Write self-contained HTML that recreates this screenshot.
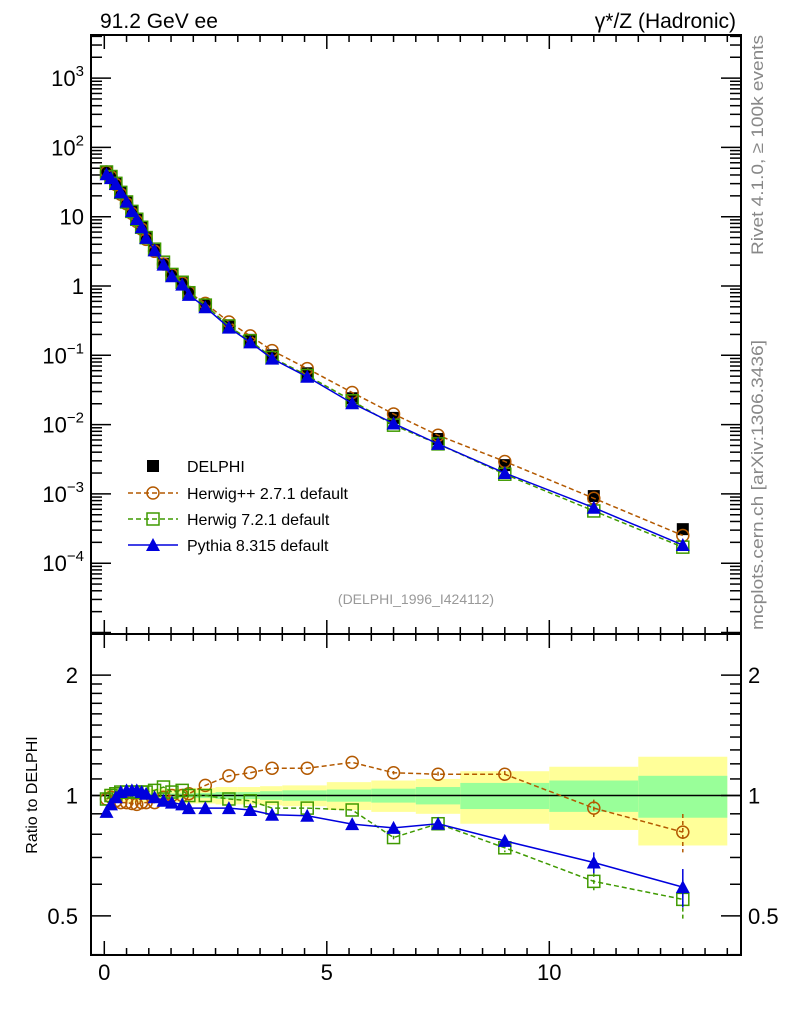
<!DOCTYPE html>
<html><head><meta charset="utf-8"><style>
body{margin:0;background:#fff}
svg{display:block;font-family:"Liberation Sans",sans-serif}
</style></head><body>
<svg id="c" width="786" height="1024" viewBox="0 0 786 1024" xmlns="http://www.w3.org/2000/svg">
<rect x="0" y="0" width="786" height="1024" fill="#fff"/>
<g id="bands"></g><g id="grid"></g><g id="series"></g>
<rect x="91" y="35" width="650" height="599" fill="none" stroke="#000" stroke-width="2"/>
<rect x="91" y="634" width="650" height="321" fill="none" stroke="#000" stroke-width="2"/>
<text x="100" y="28" font-size="21">91.2 GeV ee</text>
<text x="736" y="28" font-size="21" text-anchor="end">γ*/Z (Hadronic)</text>
<text transform="translate(763,255) rotate(-90)" font-size="17" fill="#888" textLength="220" lengthAdjust="spacingAndGlyphs">Rivet 4.1.0, ≥ 100k events</text>
<text transform="translate(763,630) rotate(-90)" font-size="17" fill="#888" textLength="290" lengthAdjust="spacingAndGlyphs">mcplots.cern.ch [arXiv:1306.3436]</text>
<text x="416" y="604" font-size="14" fill="#999" text-anchor="middle">(DELPHI_1996_I424112)</text>
<text transform="translate(37,795) rotate(-90)" font-size="16" text-anchor="middle">Ratio to DELPHI</text>
<g font-size="16">
<rect x="147" y="460" width="12" height="12" fill="#000"/>
<text x="187" y="472">DELPHI</text>
<line x1="128" y1="493" x2="178" y2="493" stroke="#b35900" stroke-width="1.5" stroke-dasharray="5,3"/>
<circle cx="153" cy="493" r="6" fill="none" stroke="#b35900" stroke-width="1.5"/>
<text x="187" y="499">Herwig++ 2.7.1 default</text>
<line x1="128" y1="519" x2="178" y2="519" stroke="#3f9a00" stroke-width="1.5" stroke-dasharray="5,3"/>
<rect x="147" y="513" width="12" height="12" fill="none" stroke="#3f9a00" stroke-width="1.5"/>
<text x="187" y="525">Herwig 7.2.1 default</text>
<line x1="128" y1="545" x2="178" y2="545" stroke="#0000dd" stroke-width="1.5"/>
<polygon points="153,538 160,551 146,551" fill="#0000dd"/>
<text x="187" y="551">Pythia 8.315 default</text>
</g>
</svg>
<script>
const xs=[0.05,0.15,0.26,0.37,0.5,0.62,0.73,0.84,0.94,1.13,1.33,1.52,1.75,1.9,2.27,2.8,3.28,3.77,4.56,5.57,6.5,7.5,9,11,13];
const edges=[0,0.1,0.2,0.3,0.4,0.55,0.65,0.8,0.9,1.0,1.2,1.4,1.6,1.8,2.0,2.5,3.0,3.5,4.0,5.0,6.0,7.0,8.0,10,12,14];
const delphi=[45,38,30,22,16,11.7,9,6.9,4.9,3.3,2.1,1.44,1.1,0.8,0.53,0.27,0.167,0.1,0.055,0.024,0.0125,0.0062,0.0026,0.00093,0.00031];
const statErr=[0.012,0.012,0.012,0.012,0.012,0.012,0.012,0.012,0.012,0.012,0.012,0.012,0.012,0.012,0.015,0.02,0.02,0.025,0.03,0.035,0.04,0.05,0.075,0.09,0.12];
const totErr=[0.04,0.04,0.04,0.04,0.04,0.04,0.04,0.04,0.04,0.04,0.04,0.04,0.04,0.045,0.045,0.05,0.05,0.055,0.06,0.08,0.09,0.1,0.15,0.18,0.25];
const rHpp=[0.98,0.99,0.97,0.96,0.96,0.955,0.95,0.96,0.96,0.96,0.99,1.0,1.0,1.01,1.06,1.12,1.14,1.17,1.17,1.21,1.14,1.13,1.13,0.93,0.81];
const rH7=[0.98,1.0,1.01,1.02,1.02,1.02,1.02,1.02,1.02,1.03,1.05,1.02,1.03,1.0,1.0,0.98,0.97,0.93,0.93,0.92,0.785,0.85,0.74,0.61,0.55];
const rPy=[0.91,0.95,0.99,1.02,1.03,1.03,1.03,1.02,1.01,0.99,0.97,0.96,0.95,0.93,0.93,0.93,0.92,0.895,0.89,0.848,0.83,0.85,0.77,0.68,0.59];
const eHpp=[0,0,0,0,0,0,0,0,0,0,0,0,0,0,0,0,0,0,0,0,0.01,0.015,0.02,0.05,0.11];
const eH7=[0,0,0,0,0,0,0,0,0,0,0,0,0,0,0,0,0,0,0,0,0.01,0.015,0.025,0.05,0.12];
const ePy=[0,0,0,0,0,0,0,0,0,0,0,0,0,0,0,0,0,0,0,0,0.015,0.015,0.03,0.06,0.11];
const mainTicks=["10^-4","10^-3","10^-2","10^-1","1","10","10^2","10^3"];
const mainTickExp=[-4,-3,-2,-1,0,1,2,3];
const xTickLabels=[0,5,10];
const ratioTicks=[0.5,1,2];

const NS="http://www.w3.org/2000/svg";
const X=v=>104.3+v*44.5;
const Ym=v=>286-69.3*Math.log10(v);
const Yr=v=>795.5-400*Math.log10(v);
function mk(tag,at,parent){const e=document.createElementNS(NS,tag);for(const k in at)e.setAttribute(k,at[k]);parent.appendChild(e);return e;}
const g=document.getElementById('grid'),bg=document.getElementById('bands'),sg=document.getElementById('series');

for(let i=0;i<xs.length;i++){
 const x1=X(edges[i]),x2=X(edges[i+1]);
 const y=mk('rect',{x:x1,y:Yr(1+totErr[i]),width:x2-x1,height:Yr(1-totErr[i])-Yr(1+totErr[i]),fill:'#ffff99'},bg);
 
 
 const s=mk('rect',{x:x1,y:Yr(1+statErr[i]),width:x2-x1,height:Yr(1-statErr[i])-Yr(1+statErr[i]),fill:'#99ff99'},bg);
 
 
}
mk('line',{x1:91,x2:741,y1:Yr(1),y2:Yr(1),stroke:'#000','stroke-width':1.5},bg);

for(let d=-5;d<=3;d++){for(let m=1;m<10;m++){const v=m*Math.pow(10,d);const y=Ym(v);if(y<36||y>633)continue;const L=m==1?20:11;
 mk('line',{x1:91,x2:91+L,y1:y,y2:y,stroke:'#000','stroke-width':1.5},g);
 mk('line',{x1:741,x2:741-L,y1:y,y2:y,stroke:'#000','stroke-width':1.5},g);}}
mainTicks.forEach((t,i)=>{const y=Ym(Math.pow(10,mainTickExp[i]));
 const tx=mk('text',{x:84,y:y+8,'font-size':22,'text-anchor':'end'},g);
 
 
 if(t.indexOf('^')>0){const p=t.split('^');tx.textContent=p[0];const ts=mk('tspan',{dy:-10,'font-size':15},tx);ts.textContent=p[1].replace('-','−');}
 else tx.textContent=t;});
[0.4,0.5,0.6,0.7,0.8,0.9,1,2].forEach(v=>{const y=Yr(v);const L=(v==0.5||v==1||v==2)?20:11;
 mk('line',{x1:91,x2:91+L,y1:y,y2:y,stroke:'#000','stroke-width':1.5},g);
 mk('line',{x1:741,x2:741-L,y1:y,y2:y,stroke:'#000','stroke-width':1.5},g);});
[1.1,1.2,1.3,1.4,1.5,1.6,1.7,1.8,1.9].forEach(v=>{const y=Yr(v);
 mk('line',{x1:91,x2:102,y1:y,y2:y,stroke:'#000','stroke-width':1.5},g);mk('line',{x1:741,x2:730,y1:y,y2:y,stroke:'#000','stroke-width':1.5},g);});
ratioTicks.forEach(v=>{const y=Yr(v)+8;
 const a=mk('text',{x:78,y:y,'font-size':22,'text-anchor':'end'},g);a.textContent=v;
 
 
 const b=mk('text',{x:748,y:y,'font-size':22},g);b.textContent=v;
 
 });
for(let k=0;k<=28;k++){const v=k*0.5;const x=X(v);if(x>740)continue;const L=(k%10==0)?14:7;
 [[35,1],[634,-1],[634,1],[955,-1]].forEach(([y,s])=>mk('line',{x1:x,x2:x,y1:y,y2:y+s*L,stroke:'#000','stroke-width':1.5},g));}
xTickLabels.forEach(v=>{const t=mk('text',{x:X(v),y:980,'font-size':22,'text-anchor':'middle'},g);t.textContent=v;
 
 });

function marker(type,x,y,col,parent){
 if(type=='sq'){mk('rect',{x:x-6,y:y-6,width:12,height:12,fill:col},parent);}
 else if(type=='osq'){mk('rect',{x:x-6,y:y-6,width:12,height:12,fill:'none',stroke:col,'stroke-width':1.5},parent);}
 else if(type=='oc'){mk('circle',{cx:x,cy:y,r:6,fill:'none',stroke:col,'stroke-width':1.5},parent);}
 else {mk('polygon',{points:`${x},${y-7} ${x+7},${y+6} ${x-7},${y+6}`,fill:col},parent);}
}
function series(name,vals,Yf,col,type,dash,errs){
 const grp=mk('g',{},sg);
 
 
 if(col!=='#000'){const pts=xs.map((x,i)=>X(x)+','+Yf(vals[i])).join(' ');
  const pl=mk('polyline',{points:pts,fill:'none',stroke:col,'stroke-width':1.5},grp);if(dash)pl.setAttribute('stroke-dasharray','5,3');}
 xs.forEach((x,i)=>{if(errs&&errs[i]>0){const l=mk('line',{x1:X(x),x2:X(x),y1:Yf(vals[i]*(1+errs[i])),y2:Yf(vals[i]*(1-errs[i])),stroke:col,'stroke-width':1.5},grp);if(dash)l.setAttribute('stroke-dasharray','4,3');}
  marker(type,X(x),Yf(vals[i]),col,grp);});
}
const mHpp=delphi.map((d,i)=>d*rHpp[i]),mH7=delphi.map((d,i)=>d*rH7[i]),mPy=delphi.map((d,i)=>d*rPy[i]);
series('delphi-data',delphi,Ym,'#000','sq',false,null);
series('herwigpp-main',mHpp,Ym,'#b35900','oc',true,null);
series('herwig7-main',mH7,Ym,'#3f9a00','osq',true,null);
series('pythia-main',mPy,Ym,'#0000dd','tri',false,null);
series('herwigpp-ratio',rHpp,Yr,'#b35900','oc',true,eHpp);
series('herwig7-ratio',rH7,Yr,'#3f9a00','osq',true,eH7);
series('pythia-ratio',rPy,Yr,'#0000dd','tri',false,ePy);
</script>
</body></html>
